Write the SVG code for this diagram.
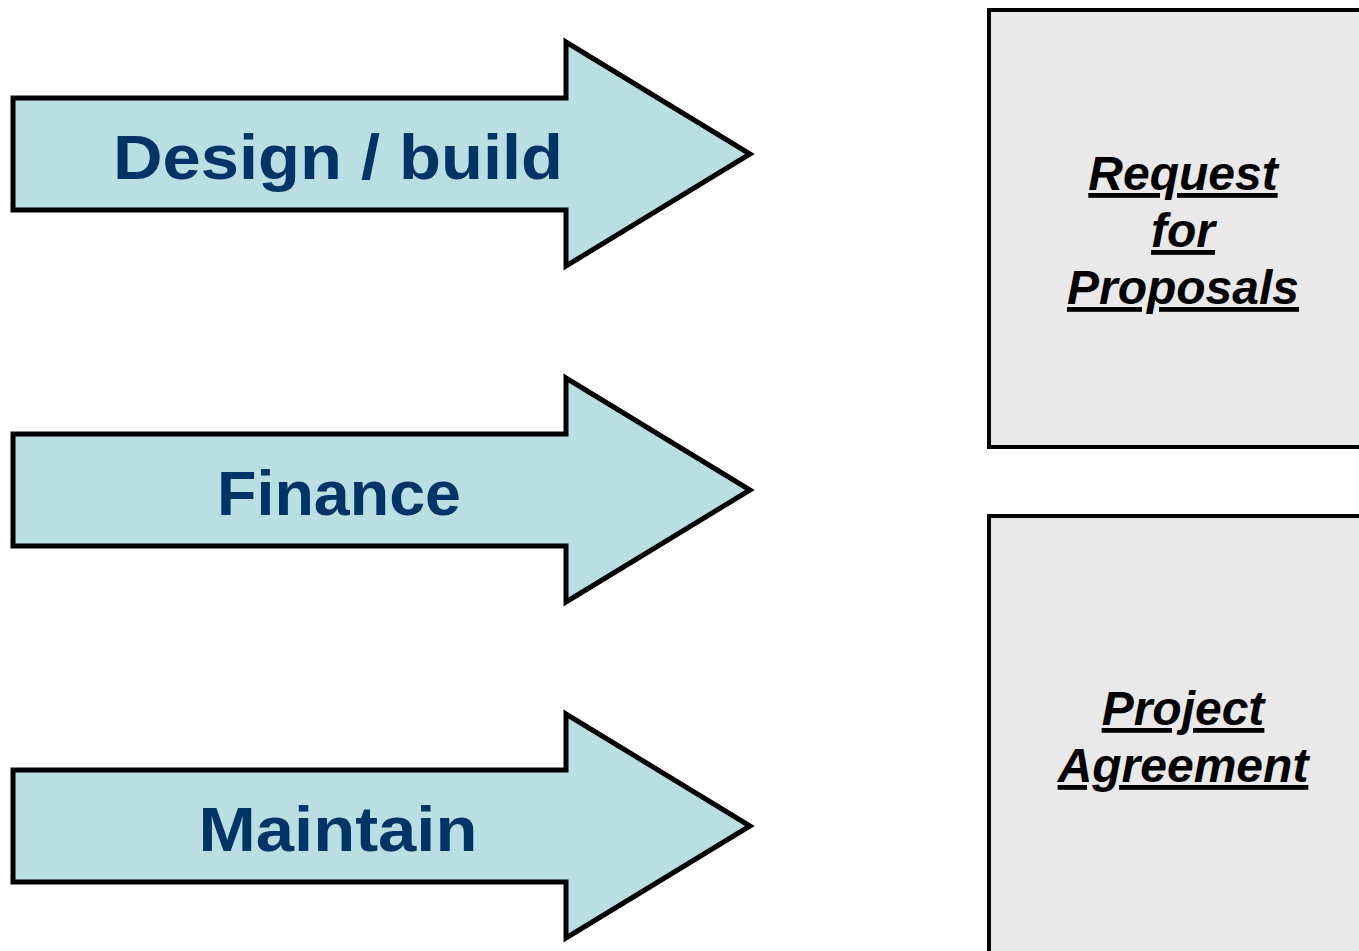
<svg xmlns="http://www.w3.org/2000/svg" width="1359" height="951" viewBox="0 0 1359 951">
<style>
.arrow{fill:#b9dfe2;stroke:#000;stroke-width:5;stroke-linejoin:miter}
.lbl{font-family:"Liberation Sans",Arial,sans-serif;font-weight:bold;font-size:63px;fill:#003366;text-anchor:middle}
.box{fill:#e9e9e9;stroke:#000;stroke-width:4}
.doc{font-family:"Liberation Sans",Arial,sans-serif;font-weight:bold;font-style:italic;font-size:48px;fill:#000;text-anchor:middle;text-decoration:underline}
</style>
<rect width="1359" height="951" fill="#fff"/>
<g id="arrow-design">
<polygon class="arrow" points="13,98 566,98 566,42 750,154 566,266 566,210 13,210"/>
<text class="lbl" x="338" y="179" textLength="450" lengthAdjust="spacingAndGlyphs">Design / build</text>
</g>
<g id="arrow-finance">
<polygon class="arrow" points="13,434 566,434 566,378 750,490 566,602 566,546 13,546"/>
<text class="lbl" x="339" y="515" textLength="244" lengthAdjust="spacingAndGlyphs">Finance</text>
</g>
<g id="arrow-maintain">
<polygon class="arrow" points="13,770 566,770 566,714 750,826 566,938 566,882 13,882"/>
<text class="lbl" x="338" y="851" textLength="279" lengthAdjust="spacingAndGlyphs">Maintain</text>
</g>
<g id="box-rfp">
<rect class="box" x="989" y="10" width="380" height="437"/>
<text class="doc" x="1183" y="190">Request</text>
<text class="doc" x="1183" y="247">for</text>
<text class="doc" x="1183" y="304">Proposals</text>
</g>
<g id="box-pa">
<rect class="box" x="989" y="516" width="380" height="450"/>
<text class="doc" x="1183" y="725">Project</text>
<text class="doc" x="1183" y="782">Agreement</text>
</g>
<g id="connectors"></g>
</svg>
